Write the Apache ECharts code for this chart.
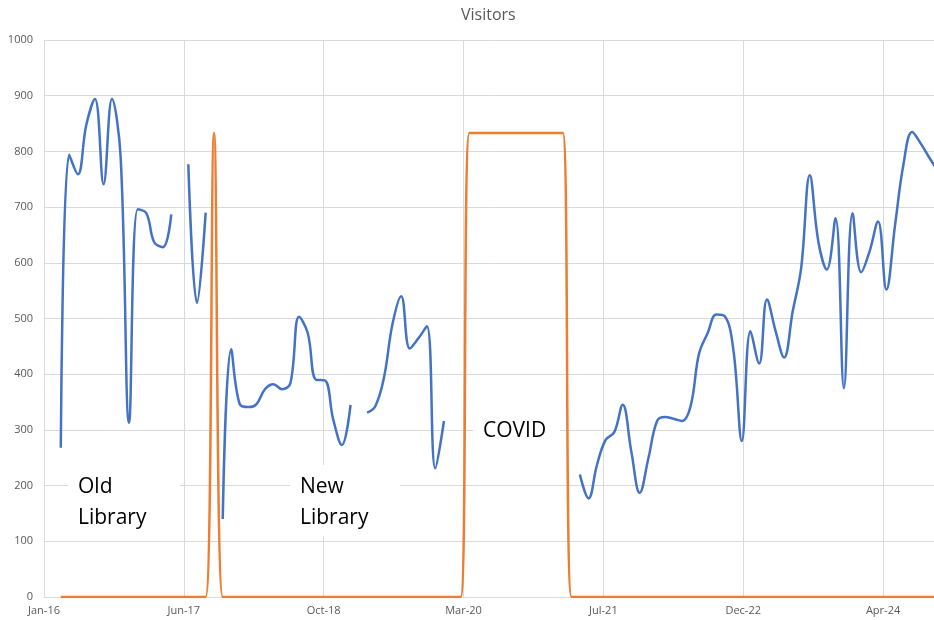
<!DOCTYPE html>
<html>
<head>
<meta charset="utf-8">
<title>Visitors</title>
<script src="https://cdn.jsdelivr.net/npm/echarts@6/dist/echarts.min.js"></script>
<style>
  html, body { margin: 0; padding: 0; background: #fff; }
  #chart { width: 934px; height: 620px; }
</style>
</head>
<body>
<div id="chart"></div>
<script>
// one value per month, first entry = Jan 2016 (dated at month end)
var visitors = [
  null, null, 268, 794, 759, 847, 894, 741, 894, 790, 313, 696,   // 2016
  689, 637, 628, 687, null, 777, 528, 690, null, 140, 445, 346,   // 2017
  341, 346, 373, 382, 373, 384, 503, 474, 390, 389, 319, 273,     // 2018
  345, null, 331, 343, 395, 490, 540, 446, 464, 486, 231, 316,    // 2019
  null, null, null, null, null, null, null, null, null, null, null, null, // 2020
  null, null, null, 220, 177, 237, 282, 296, 345, 261, 187, 249,  // 2021
  316, 323, 320, 316, 343, 437, 474, 507, 504, 443, 280, 477,     // 2022
  419, 534, 477, 430, 513, 590, 757, 637, 588, 680, 375, 689,     // 2023
  583, 619, 674, 552, 668, 777, 835, 814, 789, 765                // 2024
];
// library closed marker (orange line)
var closures = [
  null, null, 0, 0, 0, 0, 0, 0, 0, 0, 0, 0,
  0, 0, 0, 0, 0, 0, 0, 0, 833, 0, 0, 0,
  0, 0, 0, 0, 0, 0, 0, 0, 0, 0, 0, 0,
  0, 0, 0, 0, 0, 0, 0, 0, 0, 0, 0, 0,
  0, 0, 833, 833, 833, 833, 833, 833, 833, 833, 833, 833,
  833, 833, 0, 0, 0, 0, 0, 0, 0, 0, 0, 0,
  0, 0, 0, 0, 0, 0, 0, 0, 0, 0, 0, 0,
  0, 0, 0, 0, 0, 0, 0, 0, 0, 0, 0, 0,
  0, 0, 0, 0, 0, 0, 0, 0, 0, 0
];
// date axis: a label every 500 days from 31 Jan 2016
var tickLabels = ['Jan-16', 'Jun-17', 'Oct-18', 'Mar-20', 'Jul-21', 'Dec-22', 'Apr-24'];

(function () {
  var DAY = 86400000;
  var axisStart = Date.UTC(2016, 0, 31);

  function dayOf(k) {
    return (Date.UTC(2016, k + 1, 0) - axisStart) / DAY;
  }
  function toPoints(arr) {
    return arr.map(function (v, k) {
      return [dayOf(k), v == null ? '-' : v];
    });
  }

  // text box with white fill, drawn over the gridlines
  function note(x, y, w, h, ty, text) {
    return {
      type: 'group', left: x, top: y,
      children: [
        { type: 'rect', z: 10, shape: { x: 0, y: 0, width: w, height: h }, style: { fill: '#fff' } },
        { type: 'text', z: 11, x: 10, y: ty, style: { text: text, font: '21px "Open Sans"', fill: '#000', lineHeight: 31 } }
      ]
    };
  }

  var myChart = echarts.init(document.getElementById('chart'));
  var option = {
    backgroundColor: '#fff',
    animation: false,
    title: {
      text: 'Visitors', left: 456, top: 2,
      textStyle: { color: '#595959', fontSize: 16, fontWeight: 'normal', fontFamily: 'Open Sans' }
    },
    // plot runs a little past the right edge of the picture
    grid: { left: 44, width: 895, top: 40, bottom: 23, outerBoundsMode: 'none', containLabel: false },
    xAxis: {
      type: 'value', min: 0, max: 3200, interval: 500,
      axisLine: { show: true, lineStyle: { color: '#d9d9d9' } },
      axisTick: { show: false },
      splitLine: { show: true, lineStyle: { color: '#d9d9d9' } },
      axisLabel: {
        margin: 8, color: '#595959', fontSize: 11, fontFamily: 'Open Sans',
        formatter: function (v) {
          return v % 500 === 0 ? (tickLabels[v / 500] || '') : '';
        }
      }
    },
    yAxis: {
      type: 'value', min: 0, max: 1000, interval: 100,
      axisLine: { show: false },
      axisTick: { show: false },
      splitLine: { lineStyle: { color: '#d9d9d9' } },
      axisLabel: {
        margin: 11, color: '#595959', fontSize: 11, fontFamily: 'Open Sans',
        formatter: function (v) { return String(v); }
      }
    },
    series: [
      {
        name: 'Visitors', type: 'line', data: toPoints(visitors),
        smooth: 0.4, showSymbol: false, connectNulls: false,
        lineStyle: { color: '#4472c4', width: 2.5 }, itemStyle: { color: '#4472c4' }
      },
      {
        name: 'Closed', type: 'line', data: toPoints(closures),
        smooth: 0.4, showSymbol: false,
        lineStyle: { color: '#ed7d31', width: 2.5 }, itemStyle: { color: '#ed7d31' }
      }
    ],
    graphic: [
      note(68, 464, 112, 70, 8, 'Old\nLibrary'),
      note(290, 465, 110, 71, 7, 'New\nLibrary'),
      note(473, 405, 87, 52, 11, 'COVID')
    ]
  };
  myChart.setOption(option);
})();
</script>
</body>
</html>
